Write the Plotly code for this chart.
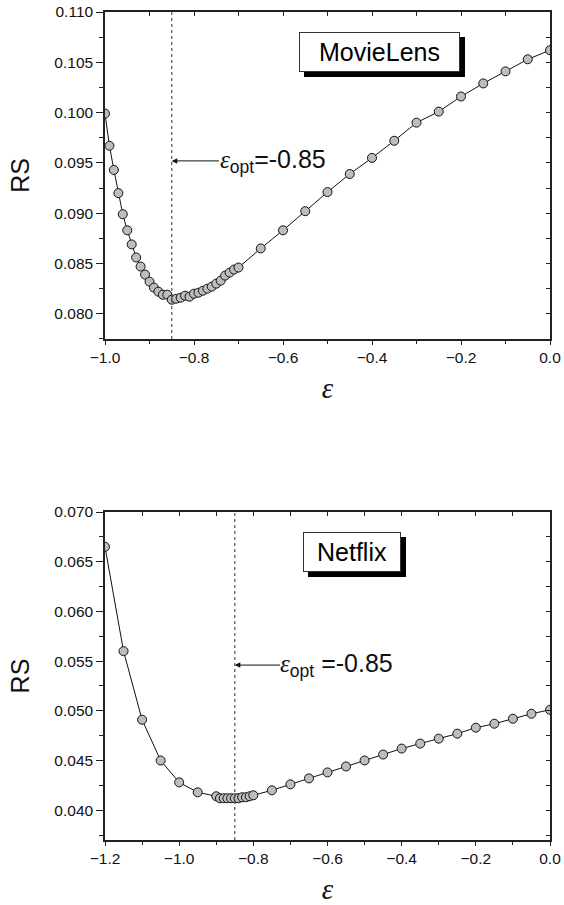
import plotly.graph_objects as go

# ---------------- data ----------------
ml_eps = [-1.00, -0.99, -0.98, -0.97, -0.96, -0.95, -0.94, -0.93, -0.92, -0.91,
          -0.90, -0.89, -0.88, -0.87, -0.86, -0.85, -0.84, -0.83, -0.82, -0.81,
          -0.80, -0.79, -0.78, -0.77, -0.76, -0.75, -0.74, -0.73, -0.72, -0.71,
          -0.70, -0.65, -0.60, -0.55, -0.50, -0.45, -0.40, -0.35, -0.30, -0.25,
          -0.20, -0.15, -0.10, -0.05, 0.00]
ml_rs = [0.0999, 0.0967, 0.0943, 0.0920, 0.0899, 0.0883, 0.0869, 0.0856, 0.0847, 0.0839,
         0.0832, 0.0826, 0.0822, 0.0819, 0.0819, 0.0814, 0.0815, 0.0816, 0.0818, 0.0817,
         0.0820, 0.0821, 0.0823, 0.0825, 0.0827, 0.0830, 0.0833, 0.0838, 0.0841, 0.0844,
         0.0846, 0.0865, 0.0883, 0.0902, 0.0921, 0.0939, 0.0955, 0.0972, 0.0990, 0.1001,
         0.1016, 0.1029, 0.1041, 0.1053, 0.1062]

nf_eps = [-1.20, -1.15, -1.10, -1.05, -1.00, -0.95, -0.90, -0.89, -0.88, -0.87,
          -0.86, -0.85, -0.84, -0.83, -0.82, -0.81, -0.80, -0.75, -0.70, -0.65,
          -0.60, -0.55, -0.50, -0.45, -0.40, -0.35, -0.30, -0.25, -0.20, -0.15,
          -0.10, -0.05, 0.00]
nf_rs = [0.0665, 0.0560, 0.0491, 0.0450, 0.0428, 0.0418, 0.0414, 0.0412, 0.0412, 0.0412,
         0.0412, 0.0412, 0.0412, 0.0413, 0.0413, 0.0414, 0.0415, 0.0420, 0.0426, 0.0432,
         0.0438, 0.0444, 0.0450, 0.0456, 0.0462, 0.0467, 0.0472, 0.0477, 0.0483, 0.0487,
         0.0492, 0.0497, 0.0501]

EPS_OPT = -0.85
ml_label = "MovieLens"
nf_label = "Netflix"
x_title = "ε"
y_title = "RS"

# ---------------- style ----------------
SANS = "Liberation Sans, Arial, sans-serif"
SERIF = "Liberation Serif, Times New Roman, serif"
AX = "#222222"
TOP_DOM = [0.6051, 1.0]
BOT_DOM = [0.0, 0.3961]
ML_RANGE_X = [-1.0, 0.0]
ML_RANGE_Y = [0.0775, 0.110]
NF_RANGE_X = [-1.2, 0.0]
NF_RANGE_Y = [0.037, 0.070]

marker = dict(size=9, color="#bdbdbd", line=dict(color="#111111", width=1))
line = dict(color="#111111", width=1)

fig = go.Figure()
fig.add_trace(go.Scatter(x=ml_eps, y=ml_rs, mode="lines+markers", marker=marker,
                         line=line, xaxis="x", yaxis="y", showlegend=False))
fig.add_trace(go.Scatter(x=nf_eps, y=nf_rs, mode="lines+markers", marker=marker,
                         line=line, xaxis="x2", yaxis="y2", showlegend=False))
# invisible companions so the mirrored frame axes (top/right) are drawn
fig.add_trace(go.Scatter(x=ml_eps, y=ml_rs, mode="markers", marker=dict(opacity=0),
                         hoverinfo="skip", xaxis="x3", yaxis="y3", showlegend=False))
fig.add_trace(go.Scatter(x=nf_eps, y=nf_rs, mode="markers", marker=dict(opacity=0),
                         hoverinfo="skip", xaxis="x4", yaxis="y4", showlegend=False))


def xmain(rng, anchor):
    return dict(domain=[0, 1], anchor=anchor, range=rng, tick0=0, dtick=0.2,
                tickformat=".1f", ticks="outside", ticklen=4, tickwidth=1.2,
                tickcolor=AX, showline=True, linewidth=1.5, linecolor=AX,
                showgrid=False, zeroline=False, automargin=False,
                ticklabeloverflow="allow",
                minor=dict(dtick=0.1, tick0=0, ticks="outside", ticklen=3,
                           tickwidth=1.2, tickcolor=AX, showgrid=False),
                tickfont=dict(family=SANS, size=15.5, color="#111"),
                title=dict(text="<i>" + x_title + "</i>", standoff=12,
                           font=dict(family=SERIF, size=29, color="#111")))


def ymain(rng, dom, anchor):
    return dict(domain=dom, anchor=anchor, range=rng, tick0=0, dtick=0.005,
                tickformat=".3f", ticks="outside", ticklen=7, tickwidth=1.2,
                tickcolor=AX, showline=True, linewidth=1.5, linecolor=AX,
                showgrid=False, zeroline=False, automargin=False,
                ticklabeloverflow="allow",
                minor=dict(dtick=0.0025, tick0=0, ticks="outside", ticklen=4,
                           tickwidth=1.2, tickcolor=AX, showgrid=False),
                tickfont=dict(family=SANS, size=15.5, color="#111"),
                title=dict(text=y_title, standoff=18,
                           font=dict(family=SANS, size=25, color="#111")))


def xtop(rng, over, anchor):
    return dict(overlaying=over, side="top", anchor=anchor, range=rng, tick0=0,
                dtick=0.1, ticks="inside", ticklen=4, tickwidth=1.2, tickcolor=AX,
                showticklabels=False, showline=True, linewidth=1.5, linecolor=AX,
                showgrid=False, zeroline=False, automargin=False)


def yright(rng, over, anchor):
    return dict(overlaying=over, side="right", anchor=anchor, range=rng, tick0=0,
                dtick=0.0025, ticks="inside", ticklen=4, tickwidth=1.2, tickcolor=AX,
                showticklabels=False, showline=True, linewidth=1.5, linecolor=AX,
                showgrid=False, zeroline=False, automargin=False)


fig.update_layout(
    width=564, height=905,
    margin=dict(l=105, r=14, t=12, b=65, autoexpand=False),
    paper_bgcolor="white", plot_bgcolor="white",
    font=dict(family=SANS, color="#111"),
    xaxis=xmain(ML_RANGE_X, "y"),
    yaxis=ymain(ML_RANGE_Y, TOP_DOM, "x"),
    xaxis2=xmain(NF_RANGE_X, "y2"),
    yaxis2=ymain(NF_RANGE_Y, BOT_DOM, "x2"),
    xaxis3=xtop(ML_RANGE_X, "x", "y3"),
    yaxis3=yright(ML_RANGE_Y, "y", "x3"),
    xaxis4=xtop(NF_RANGE_X, "x2", "y4"),
    yaxis4=yright(NF_RANGE_Y, "y2", "x4"),
)
fig.layout.yaxis3.domain = TOP_DOM
fig.layout.yaxis4.domain = BOT_DOM

# dotted optimum lines
for xr, yr in (("x", "y"), ("x2", "y2")):
    fig.add_shape(type="line", xref=xr, yref=yr + " domain", x0=EPS_OPT, x1=EPS_OPT,
                  y0=0, y1=1, line=dict(color="#555555", width=1.2, dash="dot"))

annos = []
# legend-like boxes with drop shadow
for xr, yr, xc, yc, txt, w in (("x", "y", -0.383, 0.1060, ml_label, 151),
                               ("x2", "y2", -0.534, 0.0660, nf_label, 88)):
    annos.append(dict(xref=xr, yref=yr, x=xc, y=yc, text=txt, showarrow=False,
                      xshift=5, yshift=-5, width=w, height=30, borderpad=4,
                      bgcolor="black", bordercolor="black", borderwidth=1,
                      font=dict(family=SANS, size=25, color="black")))
    annos.append(dict(xref=xr, yref=yr, x=xc, y=yc, text=txt, showarrow=False,
                      width=w, height=30, borderpad=4,
                      bgcolor="white", bordercolor="#333333", borderwidth=1,
                      font=dict(family=SANS, size=25, color="black")))

# epsilon_opt labels with arrows pointing to the optimum line
eps_html = "<span style='font-family:Liberation Serif;font-style:italic'>ε</span>"
for xr, yr, ya, xtext, gap in (("x", "y", 0.0952, -0.6236, ""),
                               ("x2", "y2", 0.0546, -0.5744, " ")):
    annos.append(dict(xref=xr, yref=yr, x=EPS_OPT, y=ya, axref=xr, ayref=yr,
                      ax=xtext, ay=ya, showarrow=True, arrowhead=2,
                      arrowsize=1.1, arrowwidth=1, arrowcolor="#111", borderpad=0,
                      text=eps_html + "<sub>opt</sub>" + gap + "=-0.85",
                      font=dict(family=SANS, size=25, color="#111")))

fig.update_layout(annotations=annos)
# remove the browser's default 8 px body margin so the figure fills the window
fig.write_html("out.html",
               config={"displayModeBar": False},
               post_script="document.body.style.margin='0';"
                           "document.body.style.overflow='hidden';")
